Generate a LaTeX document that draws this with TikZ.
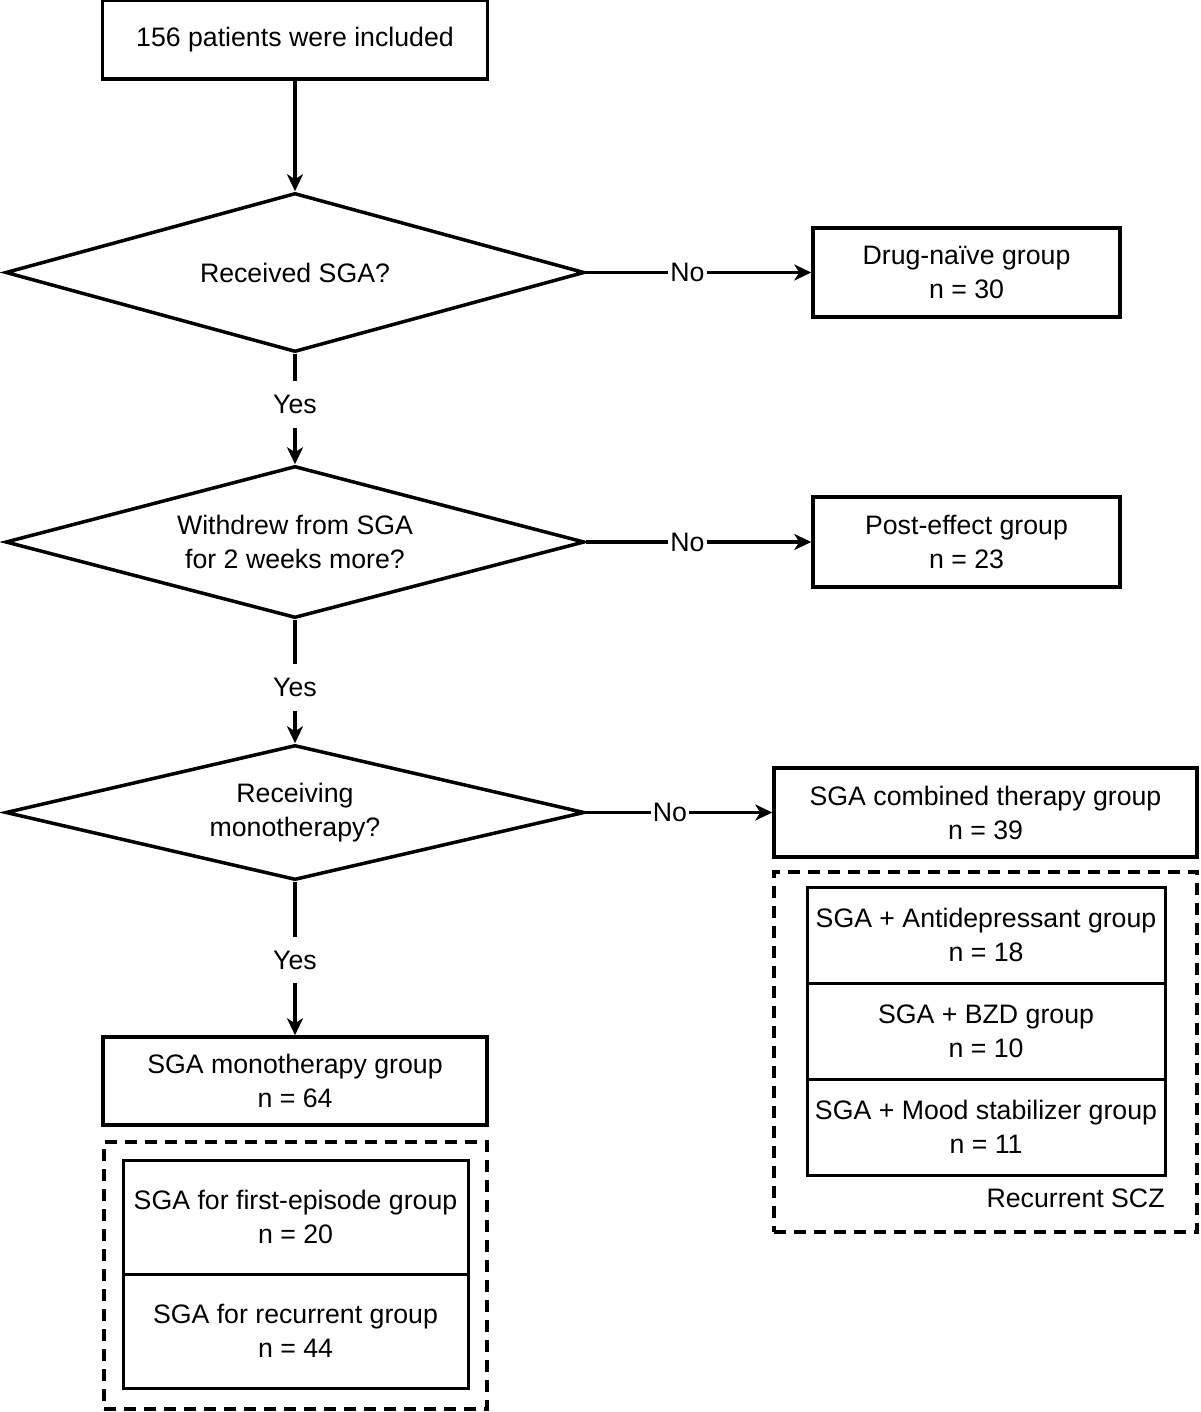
\documentclass[tikz,border=0pt]{standalone}
\usepackage{fontspec}
\setmainfont{Liberation Sans}
\usetikzlibrary{shapes.geometric,arrows.meta}
\begin{document}
\begin{tikzpicture}[x=0.5pt,y=-0.5pt,
  every node/.style={font=\fontsize{13.35}{17}\selectfont},
  box/.style={draw,line width=1.75pt,align=center,inner sep=0pt},
  innerbox/.style={draw,line width=1.5pt,align=center,inner sep=0pt},
  dashbox/.style={draw,line width=1.6pt,dash pattern=on 6pt off 4pt,inner sep=0pt},
  dec/.style={draw,diamond,aspect=3.8,line width=1.75pt,inner sep=0pt,align=center},
  arr/.style={line width=1.75pt,-{Stealth[length=8.5pt,width=8pt,inset=2.5pt]}},
  lbl/.style={fill=white,inner xsep=1pt,inner ysep=7pt}]
\useasboundingbox (0,0) rectangle (1200,1412);
% main column
\node[box,minimum width=192.5pt,minimum height=39.5pt] (start) at (295,39.5) {156 patients were included};
\node[dec,minimum width=289.5pt,minimum height=79.5pt] (d1) at (295,272.5) {Received SGA?};
\node[dec,minimum width=289.5pt,minimum height=76pt] (d2) at (295,542) {Withdrew from SGA\\for 2 weeks more?};
\node[dec,minimum width=289.5pt,minimum height=67.5pt] (d3) at (295,812.5) {Receiving\\monotherapy?};
\node[box,minimum width=192pt,minimum height=44pt] (mono) at (295,1081) {SGA monotherapy group\\n = 64};
% right column
\node[box,minimum width=153.5pt,minimum height=44.5pt] (naive) at (966.5,272.5) {Drug-na\"ive group\\n = 30};
\node[box,minimum width=153.5pt,minimum height=45pt] (post) at (966.5,542) {Post-effect group\\n = 23};
\node[box,minimum width=211.5pt,minimum height=44.5pt] (comb) at (985.5,812.5) {SGA combined therapy group\\n = 39};
% left subgroup box
\node[dashbox,minimum width=191.5pt,minimum height=133.5pt] (gl) at (295.5,1275.5) {};
\node[innerbox,minimum width=172.5pt,minimum height=57pt] (first) at (295.5,1217) {SGA for first-episode group\\n = 20};
\node[innerbox,minimum width=172.5pt,minimum height=57pt] (recur) at (295.5,1331) {SGA for recurrent group\\n = 44};
% right subgroup box
\node[dashbox,minimum width=211.5pt,minimum height=180pt] (gr) at (985.5,1052) {};
\node[innerbox,minimum width=179pt,minimum height=48pt] (anti) at (986,935) {SGA + Antidepressant group\\n = 18};
\node[innerbox,minimum width=179pt,minimum height=48pt] (bzd) at (986,1031) {SGA + BZD group\\n = 10};
\node[innerbox,minimum width=179pt,minimum height=48pt] (mood) at (986,1127) {SGA + Mood stabilizer group\\n = 11};
\node[anchor=base east,inner sep=0pt] (scz) at (1165,1207) {Recurrent SCZ};
% connectors
\draw[arr] (start.south) -- (d1.north);
\draw[arr] (d1.south) -- node[lbl,pos=.46]{Yes} (d2.north);
\draw[arr] (d2.south) -- node[lbl,pos=.55]{Yes} (d3.north);
\draw[arr] (d3.south) -- node[lbl,pos=.51]{Yes} (mono.north);
\draw[arr] (d1.east) -- node[lbl,pos=.45]{No} (naive.west);
\draw[arr] (d2.east) -- node[lbl,pos=.45]{No} (post.west);
\draw[arr] (d3.east) -- node[lbl,pos=.45]{No} (comb.west);
\end{tikzpicture}
\end{document}
